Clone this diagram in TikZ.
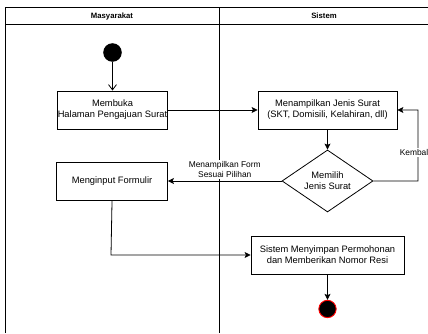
\documentclass[tikz,border=0pt]{standalone}
\usepackage{fontspec}
\setmainfont{Liberation Sans}
\usetikzlibrary{shapes.geometric, positioning, arrows.meta}

\begin{document}
\begin{tikzpicture}[x=0.75pt, y=-0.75pt, line width=0.6pt, node distance=2cm, on grid,
        >={Stealth[length=4.5pt, width=4.5pt, inset=1pt]}]
                \tikzset{
                    act/.style={draw, minimum height=28.5pt, align=center, inner sep=0pt,
                        font=\fontsize{7}{8.3}\selectfont},
                    cond/.style={draw, diamond, aspect=1.47, minimum width=68.25pt,
                        minimum height=46.5pt, inner sep=0pt, align=center,
                        font=\fontsize{7}{8.3}\selectfont},
                    lbl/.style={fill=white, inner sep=1pt, align=center,
                        font=\fontsize{6.3}{8}\selectfont},
                    lane/.style={font=\fontsize{5.8}{7}\selectfont\bfseries}
                }
                \useasboundingbox (0,0) rectangle (428,333);

                % swimlanes
                \draw (5,333) -- (5,7) -- (428,7);
                \draw (5,24) -- (428,24);
                \draw (219,7) -- (219,333);
                \node[lane] (masy) at (112,16) {Masyarakat};
                \node[lane] (sis) at (324,16) {Sistem};

                \node[circle, fill=black, minimum size=13.9pt, inner sep=0pt] (start) at (112.5,52.5) {};
                \node[act, minimum width=80.25pt] (buka) [below=43.1pt of start] {Membuka\\Halaman Pengajuan Surat};
                \node[act, minimum width=104.25pt] (tampil) [right=161.25pt of buka] {Menampilkan Jenis Surat\\(SKT, Domisili, Kelahiran, dll)};
                \node[cond] (pilih) [below=53.25pt of tampil] {Memilih\\Jenis Surat};
                \node[act, minimum width=83.25pt] (input) [left=161.6pt of pilih] {Menginput Formulir};
                \node[act, minimum width=114.75pt] (simpan) [below=55.5pt of pilih] {Sistem Menyimpan Permohonan\\dan Memberikan Nomor Resi};
                \node[circle, fill=black, draw=red, line width=0.7pt, minimum size=13pt, inner sep=0pt] (stop) [below=40.5pt of simpan] {};

                \coordinate (kb) at (418,181);
                \coordinate (ib) at (111,255);

                \draw[-{Straight Barb[length=4pt, width=6pt]}] (start) -- (buka);
                \path[->]
                    (buka) edge (tampil)
                    (tampil) edge (pilih)
                    (simpan) edge (stop);
                \draw[->] (pilih) -- node[lbl, anchor=south, pos=0.5, yshift=1pt] {Menampilkan Form\\Sesuai Pilihan} (input);
                \draw[->] (pilih.east) -- (kb) |- node[lbl, pos=0.2, xshift=-3pt] {Kembal} (tampil.east);
                \draw[->] (input.south) -- (ib) -- (simpan.west);

            \end{tikzpicture}
\end{document}
